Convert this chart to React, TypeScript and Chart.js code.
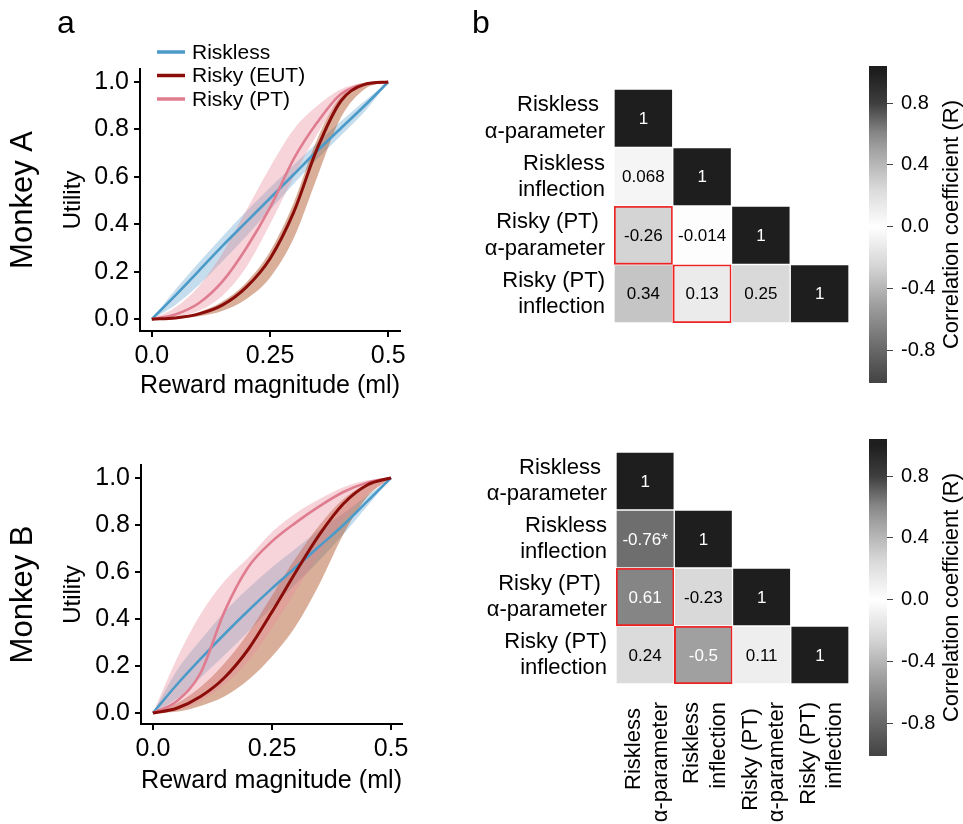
import React, { useEffect, useRef } from 'react';
import { Chart, registerables } from 'chart.js';
Chart.register(...registerables);

const FONT = "'Liberation Sans', Arial, Helvetica, sans-serif";

// ---------- utility curves (x = reward in ml) ----------
const rewardX = [0, 0.05, 0.1, 0.15, 0.2, 0.25, 0.3, 0.35, 0.4, 0.45, 0.5];
const xTickValues = [0, 0.25, 0.5];
const xTickLabels = ['0.0', '0.25', '0.5'];
const yTickValues = [0, 0.2, 0.4, 0.6, 0.8, 1.0];

// Monkey A
const aRiskless = [0, 0.1, 0.205, 0.31, 0.41, 0.51, 0.61, 0.71, 0.805, 0.9, 1.0];
const aRisklessLo = [0, 0.06, 0.145, 0.245, 0.35, 0.46, 0.57, 0.675, 0.775, 0.875, 1.0];
const aRisklessHi = [0, 0.125, 0.24, 0.35, 0.455, 0.555, 0.65, 0.745, 0.835, 0.92, 1.0];
const aEut = [0, 0.005, 0.022, 0.06, 0.135, 0.255, 0.45, 0.72, 0.92, 0.99, 1.0];
const aEutLo = [0, 0.002, 0.012, 0.035, 0.085, 0.175, 0.34, 0.6, 0.85, 0.97, 1.0];
const aEutHi = [0, 0.008, 0.03, 0.075, 0.155, 0.285, 0.49, 0.76, 0.94, 0.997, 1.0];
const aPt = [0, 0.02, 0.068, 0.16, 0.3, 0.47, 0.675, 0.83, 0.95, 0.99, 1.0];
const aPtLo = [0, 0.01, 0.035, 0.1, 0.22, 0.4, 0.6, 0.78, 0.92, 0.98, 1.0];
const aPtHi = [0, 0.05, 0.14, 0.28, 0.46, 0.64, 0.8, 0.9, 0.97, 0.995, 1.0];

// Monkey B
const bRiskless = [0, 0.12, 0.23, 0.335, 0.435, 0.53, 0.62, 0.71, 0.8, 0.9, 1.0];
const bRisklessLo = [0, 0.06, 0.15, 0.245, 0.345, 0.45, 0.55, 0.65, 0.76, 0.88, 1.0];
const bRisklessHi = [0, 0.18, 0.31, 0.43, 0.53, 0.62, 0.7, 0.78, 0.85, 0.925, 1.0];
const bEut = [0, 0.02, 0.07, 0.15, 0.27, 0.43, 0.6, 0.76, 0.89, 0.97, 1.0];
const bEutLo = [0, 0.005, 0.03, 0.07, 0.14, 0.24, 0.37, 0.55, 0.76, 0.92, 1.0];
const bEutHi = [0, 0.04, 0.11, 0.21, 0.34, 0.5, 0.66, 0.8, 0.91, 0.975, 1.0];
const bPt = [0, 0.05, 0.17, 0.43, 0.62, 0.73, 0.81, 0.88, 0.94, 0.98, 1.0];
const bPtLo = [0, 0.01, 0.05, 0.12, 0.22, 0.36, 0.52, 0.68, 0.82, 0.93, 1.0];
const bPtHi = [0, 0.23, 0.42, 0.56, 0.66, 0.77, 0.85, 0.91, 0.96, 0.99, 1.0];

// ---------- correlation matrices ----------
const paramLabels = [
  ['Riskless ', 'α-parameter'],
  ['Riskless', 'inflection'],
  ['Risky (PT) ', 'α-parameter'],
  ['Risky (PT)', 'inflection'],
];
const corrA = [[1], [0.068, 1], [-0.26, -0.014, 1], [0.34, 0.13, 0.25, 1]];
const starsA = [[''], ['', ''], ['', '', ''], ['', '', '', '']];
const corrB = [[1], [-0.76, 1], [0.61, -0.23, 1], [0.24, -0.5, 0.11, 1]];
const starsB = [[''], ['*', ''], ['', '', ''], ['', '', '', '']];
const highlightCells = [[2, 0], [3, 1]];

const cbTicks = [-0.8, -0.4, 0, 0.4, 0.8];
const cbMin = -1.01;
const cbMax = 1.04;
const cmapValues = [-1, -0.76, -0.5, -0.26, 0, 0.13, 0.25, 0.34, 0.5, 0.61, 0.8, 1];
const cmapGrays = [68, 110, 160, 212, 255, 235, 217, 197, 162, 133, 62, 30];

const C = {
  blue: '#4b9ac8',
  blueBand: 'rgba(110,170,210,0.40)',
  eut: '#8b0d0a',
  eutBand: 'rgba(175,80,35,0.46)',
  pt: '#e07c8f',
  ptBand: 'rgba(230,135,150,0.36)',
  red: '#ee2222',
};

function grayLevel(v: number) {
  if (v <= cmapValues[0]) return cmapGrays[0];
  for (let i = 1; i < cmapValues.length; i++) {
    if (v <= cmapValues[i]) {
      const t = (v - cmapValues[i - 1]) / (cmapValues[i] - cmapValues[i - 1]);
      return cmapGrays[i - 1] + t * (cmapGrays[i] - cmapGrays[i - 1]);
    }
  }
  return cmapGrays[cmapGrays.length - 1];
}
function grayCss(v: number) {
  const g = Math.round(grayLevel(v));
  return `rgb(${g},${g},${g})`;
}

const pts = (arr: number[]) => rewardX.map((x, i) => ({ x, y: arr[i] }));

// ---------- plugins ----------
const utilityDecor = {
  id: 'utilityDecor',
  afterDraw(chart: any, _a: any, opts: any) {
    const ctx = chart.ctx;
    ctx.save();
    ctx.fillStyle = '#000';
    if (opts.letter) {
      ctx.font = `32px ${FONT}`;
      ctx.textAlign = 'center';
      ctx.textBaseline = 'alphabetic';
      ctx.fillText(opts.letter, opts.letterX, opts.letterY);
    }
    if (opts.legend) {
      const items = chart.data.datasets.filter((d: any) => d.label);
      items.forEach((d: any, i: number) => {
        const y = opts.legendTop + i * opts.legendGap;
        ctx.strokeStyle = d.borderColor;
        ctx.lineWidth = 3.5;
        ctx.beginPath();
        ctx.moveTo(opts.legendX, y);
        ctx.lineTo(opts.legendX + 28, y);
        ctx.stroke();
        ctx.font = `21px ${FONT}`;
        ctx.textAlign = 'left';
        ctx.textBaseline = 'middle';
        ctx.fillStyle = '#000';
        ctx.fillText(d.label, opts.legendX + 35, y + 1);
      });
    }
    const ca = chart.chartArea;
    ctx.translate(opts.monkeyX, (ca.top + ca.bottom) / 2);
    ctx.rotate(-Math.PI / 2);
    ctx.font = `31px ${FONT}`;
    ctx.textAlign = 'center';
    ctx.textBaseline = 'middle';
    ctx.fillStyle = '#000';
    ctx.fillText(opts.monkey, 0, 0);
    ctx.restore();
  },
};

const cellText = {
  id: 'cellText',
  afterDatasetsDraw(chart: any, _a: any, opts: any) {
    const ctx = chart.ctx;
    ctx.save();
    ctx.font = `17px ${FONT}`;
    ctx.textAlign = 'center';
    ctx.textBaseline = 'middle';
    chart.data.datasets.forEach((_d: any, r: number) => {
      const meta = chart.getDatasetMeta(r);
      meta.data.forEach((el: any, c: number) => {
        if (c > r) return;
        const v = opts.values[r][c];
        const { x, y, base } = el.getProps(['x', 'y', 'base'], true);
        ctx.fillStyle = Math.abs(v) >= 0.45 ? '#ffffff' : '#000000';
        ctx.fillText(String(v) + opts.stars[r][c], x, (y + base) / 2 + 1);
      });
    });
    if (opts.letter) {
      ctx.font = `32px ${FONT}`;
      ctx.fillStyle = '#000';
      ctx.textBaseline = 'alphabetic';
      ctx.fillText(opts.letter, opts.letterX, opts.letterY);
    }
    ctx.restore();
  },
};

const cbTitle = {
  id: 'cbTitle',
  afterDraw(chart: any, _a: any, opts: any) {
    const ctx = chart.ctx;
    const ca = chart.chartArea;
    ctx.save();
    ctx.translate(opts.x, (ca.top + ca.bottom) / 2);
    ctx.rotate(-Math.PI / 2);
    ctx.font = `22px ${FONT}`;
    ctx.fillStyle = '#000';
    ctx.textAlign = 'center';
    ctx.textBaseline = 'middle';
    ctx.fillText(opts.text, 0, 0);
    ctx.restore();
  },
};

const noPad = (s: any) => {
  s.paddingLeft = 0;
  s.paddingRight = 0;
  s.paddingTop = 0;
  s.paddingBottom = 0;
};

// ---------- configs ----------
function utilityConfig(p: any) {
  const band = (lo: number[], hi: number[], color: string, order: number) => [
    { label: '', data: pts(lo), borderWidth: 0, pointRadius: 0, fill: false, order, cubicInterpolationMode: 'monotone' },
    { label: '', data: pts(hi), borderWidth: 0, pointRadius: 0, fill: '-1', backgroundColor: color, order, cubicInterpolationMode: 'monotone' },
  ];
  const line = (label: string, arr: number[], color: string, w: number, order: number) => ({
    label, data: pts(arr), borderColor: color, borderWidth: w, pointRadius: 0, fill: false, order,
    cubicInterpolationMode: 'monotone',
  });
  return {
    type: 'line',
    data: {
      datasets: [
        line('Riskless', p.riskless, C.blue, 2.6, 2),
        line('Risky (EUT)', p.eut, C.eut, 3, 0),
        line('Risky (PT)', p.pt, C.pt, 2.6, 1),
        ...band(p.risklessLo, p.risklessHi, C.blueBand, 10),
        ...band(p.eutLo, p.eutHi, C.eutBand, 9),
        ...band(p.ptLo, p.ptHi, C.ptBand, 8),
      ],
    },
    options: {
      responsive: false,
      animation: false,
      devicePixelRatio: 1,
      layout: { padding: { top: p.padTop, right: p.padRight, left: 0, bottom: 0 } },
      plugins: {
        legend: { display: false },
        tooltip: { enabled: false },
        utilityDecor: {
          letter: p.letter, letterX: 66, letterY: 33,
          legend: p.legend, legendX: 157, legendTop: 52, legendGap: 23.5,
          monkey: p.monkey, monkeyX: 23,
        },
      },
      scales: {
        x: {
          type: 'linear', min: -0.025, max: p.xMax,
          afterBuildTicks: (s: any) => { s.ticks = xTickValues.map((v) => ({ value: v })); },
          afterFit: (s: any) => { s.height = p.xHeight; },
          ticks: {
            callback: (v: number) => xTickLabels[xTickValues.indexOf(v)],
            font: { family: FONT, size: 25 }, color: '#000', padding: 4, maxRotation: 0, autoSkip: false,
          },
          grid: { drawOnChartArea: false, drawTicks: true, tickLength: 6, color: '#000', lineWidth: 2 },
          border: { display: true, color: '#000', width: 2 },
          title: {
            display: true, text: 'Reward magnitude (ml)', color: '#000',
            font: { family: FONT, size: 26 }, padding: { top: 0, bottom: p.xTitlePad },
          },
        },
        y: {
          type: 'linear', min: p.yMin, max: 1.055,
          afterBuildTicks: (s: any) => { s.ticks = yTickValues.map((v) => ({ value: v })); },
          afterFit: (s: any) => { s.width = p.yWidth; },
          ticks: {
            callback: (v: number) => v.toFixed(1),
            font: { family: FONT, size: 25 }, color: '#000', padding: 5, autoSkip: false,
          },
          grid: { drawOnChartArea: false, drawTicks: true, tickLength: 6, color: '#000', lineWidth: 2 },
          border: { display: true, color: '#000', width: 2 },
          title: {
            display: true, text: 'Utility', color: '#000',
            font: { family: FONT, size: 24 }, padding: { top: 59, bottom: 0 },
          },
        },
      },
    },
    plugins: [utilityDecor],
  };
}

function isHighlighted(r: number, c: number) {
  return highlightCells.some(([hr, hc]) => hr === r && hc === c);
}

function heatmapConfig(p: any) {
  const datasets = paramLabels.map((lab, r) => ({
    label: lab.join(' '),
    data: paramLabels.map((_l, c) => (c <= r ? [r - 0.5, r + 0.5] : null)),
    backgroundColor: paramLabels.map((_l, c) => (c <= r ? grayCss(p.corr[r][c]) : 'rgba(0,0,0,0)')),
    borderColor: paramLabels.map((_l, c) => (isHighlighted(r, c) ? C.red : '#ffffff')),
    borderWidth: paramLabels.map((_l, c) => (isHighlighted(r, c) ? 2 : 1)),
    borderSkipped: false,
    grouped: false,
    barPercentage: 1,
    categoryPercentage: 1,
  }));
  const x: any = {
    type: 'category',
    display: p.showX,
    grid: { display: false, drawTicks: false },
    border: { display: false },
    afterFit: (s: any) => {
      noPad(s);
      if (p.showX) s.height = p.xHeight;
    },
    ticks: {
      font: { family: FONT, size: 22 }, color: '#000', padding: 18,
      minRotation: 90, maxRotation: 90, autoSkip: false, labelOffset: -11,
    },
  };
  return {
    type: 'bar',
    data: { labels: paramLabels, datasets },
    options: {
      responsive: false,
      animation: false,
      devicePixelRatio: 1,
      layout: { padding: { top: p.padTop, right: 3, left: 0, bottom: p.padBottom } },
      plugins: {
        legend: { display: false },
        tooltip: { enabled: false },
        cellText: { values: p.corr, stars: p.stars, letter: p.letter, letterX: 21, letterY: 33 },
      },
      scales: {
        x,
        y: {
          type: 'linear', min: -0.5, max: 3.5, reverse: true,
          afterBuildTicks: (s: any) => { s.ticks = paramLabels.map((_l, i) => ({ value: i })); },
          afterFit: (s: any) => { noPad(s); s.width = p.yWidth; },
          ticks: {
            callback: (v: number) => paramLabels[v],
            font: { family: FONT, size: 22 }, color: '#000', padding: 9, autoSkip: false,
          },
          grid: { display: false, drawTicks: false },
          border: { display: false },
        },
      },
    },
    plugins: [cellText],
  };
}

function colorbarConfig() {
  return {
    type: 'bar',
    data: {
      labels: [''],
      datasets: [{
        data: [[cbMin, cbMax]],
        borderWidth: 0,
        barPercentage: 1,
        categoryPercentage: 1,
        backgroundColor: (ctx: any) => {
          const chart = ctx.chart;
          if (!chart.chartArea) return '#888';
          const y = chart.scales.y;
          const g = chart.ctx.createLinearGradient(0, y.getPixelForValue(cbMin), 0, y.getPixelForValue(cbMax));
          cmapValues.forEach((v) => {
            const pos = (v - cbMin) / (cbMax - cbMin);
            g.addColorStop(Math.min(1, Math.max(0, pos)), grayCss(v));
          });
          return g;
        },
      }],
    },
    options: {
      responsive: false,
      animation: false,
      devicePixelRatio: 1,
      layout: { padding: { top: 16, left: 9, right: 0, bottom: 12 } },
      plugins: {
        legend: { display: false },
        tooltip: { enabled: false },
        cbTitle: { text: 'Correlation coefficient (R)', x: 92 },
      },
      scales: {
        x: { display: false },
        y: {
          position: 'right', min: cbMin, max: cbMax,
          afterBuildTicks: (s: any) => { s.ticks = cbTicks.map((v) => ({ value: v })); },
          afterFit: (s: any) => { noPad(s); s.width = 76; },
          ticks: {
            callback: (v: number) => v.toFixed(1),
            font: { family: FONT, size: 20 }, color: '#000', padding: 8, autoSkip: false,
          },
          grid: { drawOnChartArea: false, drawTicks: true, tickLength: 6, color: '#444', lineWidth: 1 },
          border: { display: false },
        },
      },
    },
    plugins: [cbTitle],
  };
}

function ChartCanvas({ make, left, top, width, height }: any) {
  const ref = useRef<HTMLCanvasElement>(null);
  useEffect(() => {
    const chart = new Chart(ref.current as HTMLCanvasElement, make() as any);
    return () => chart.destroy();
  }, []);
  return (
    <canvas
      ref={ref}
      width={width}
      height={height}
      style={{ position: 'absolute', left, top, width, height }}
    />
  );
}

export default function App() {
  return (
    <div style={{ position: 'absolute', left: 0, top: 0, width: 963, height: 824, background: '#fff', overflow: 'hidden' }}>
      <ChartCanvas
        left={0} top={0} width={420} height={410}
        make={() => utilityConfig({
          riskless: aRiskless, risklessLo: aRisklessLo, risklessHi: aRisklessHi,
          eut: aEut, eutLo: aEutLo, eutHi: aEutHi, pt: aPt, ptLo: aPtLo, ptHi: aPtHi,
          padTop: 69, padRight: 20, yWidth: 140, xHeight: 79, xTitlePad: 9,
          xMax: 0.525, yMin: -0.05, letter: 'a', legend: true, monkey: 'Monkey A',
        })}
      />
      <ChartCanvas
        left={0} top={410} width={420} height={400}
        make={() => utilityConfig({
          riskless: bRiskless, risklessLo: bRisklessLo, risklessHi: bRisklessHi,
          eut: bEut, eutLo: bEutLo, eutHi: bEutHi, pt: bPt, ptLo: bPtLo, ptHi: bPtHi,
          padTop: 55, padRight: 18, yWidth: 141, xHeight: 86, xTitlePad: 14,
          xMax: 0.523, yMin: -0.047, letter: '', legend: false, monkey: 'Monkey B',
        })}
      />
      <ChartCanvas
        left={460} top={0} width={392} height={340}
        make={() => heatmapConfig({
          corr: corrA, stars: starsA, showX: false, padTop: 89, padBottom: 17, yWidth: 154, letter: 'b',
        })}
      />
      <ChartCanvas
        left={460} top={400} width={392} height={424}
        make={() => heatmapConfig({
          corr: corrB, stars: starsB, showX: true, xHeight: 140, padTop: 52, padBottom: 0, yWidth: 156, letter: '',
        })}
      />
      <ChartCanvas left={860} top={50} width={103} height={345} make={colorbarConfig} />
      <ChartCanvas left={860} top={423} width={103} height={345} make={colorbarConfig} />
    </div>
  );
}
